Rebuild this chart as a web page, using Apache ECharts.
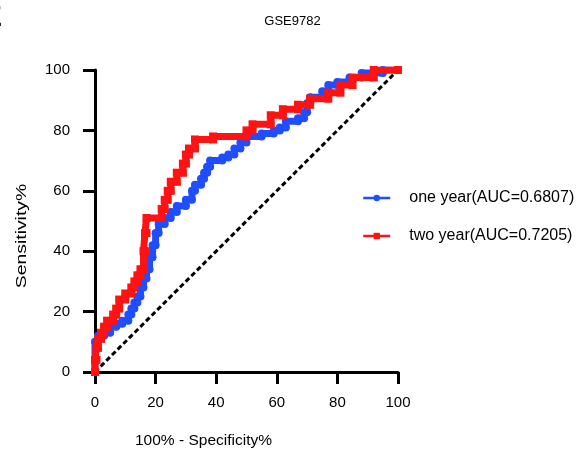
<!DOCTYPE html>
<html>
	<head>
		<meta charset="utf-8">
		<title>GSE9782</title>
		<script type="text/javascript" src="https://cdn.jsdelivr.net/npm/echarts@6/dist/echarts.min.js"></script>
		<style>
			html, body { margin: 0; padding: 0; background: #fff; }
		</style>
	</head>
	<body>
		<div id="chart" style="width:585px;height:451px;"></div>
		<script type="text/javascript">
			// ROC 曲线数据 [100% - Specificity%, Sensitivity%]
			var oneYear = [[0,0],[0,10],[1,10],[1,12],[3,12],[3,13],[5,13],[5,15],[7,15],[7,16],[9,16],[9,17],[11,17],[11,19],[12,19],[12,21],[13,21],[13,23],[14,23],[14,25],[15,25],[15,28],[16,28],[16,31],[17,31],[17,34],[18,34],[18,38],[19,38],[19,42],[20,42],[20,46],[21,46],[21,49],[23,49],[23,51],[25,51],[25,53],[27,53],[27,55],[30,55],[30,57],[32,57],[32,60],[33,60],[33,62],[35,62],[35,64],[36,64],[36,66],[37,66],[37,68],[38,68],[38,70],[42,70],[42,71],[44,71],[44,72],[46,72],[46,74],[48,74],[48,76],[50,76],[50,78],[55,78],[55,79],[59,79],[59,80],[61,80],[61,81],[63,81],[63,83],[67,83],[67,84],[69,84],[69,86],[70,86],[70,89],[71,89],[71,91],[75,91],[75,93],[77,93],[77,95],[80,95],[80,96],[84,96],[84,97.5],[88,97.5],[88,99],[95,99],[95,100],[100,100]];
			var twoYear = [[0,0],[0,4],[0.5,4],[0.5,8],[1,8],[1,11],[2,11],[2,13],[3,13],[3,15],[4,15],[4,17],[6,17],[6,19],[7,19],[7,21],[8,21],[8,24],[10,24],[10,26],[12,26],[12,28],[13,28],[13,30],[14,30],[14,32],[15,32],[15,34],[16,34],[16,40],[16.5,40],[16.5,46],[17,46],[17,51],[22,51],[22,54],[23,54],[23,57],[24,57],[24,60],[25,60],[25,63],[27,63],[27,66],[29,66],[29,69],[30,69],[30,72],[31,72],[31,74],[33,74],[33,77],[39,77],[39,78],[50,78],[50,80],[52,80],[52,82],[58,82],[58,85],[62,85],[62,87],[67,87],[67,88.5],[71,88.5],[71,90.5],[77,90.5],[77,92.5],[81,92.5],[81,95],[85,95],[85,97.5],[92,97.5],[92,100],[100,100]];
			var refLine = [[0,0],[100,100]];
			var seriesNames = ['one year(AUC=0.6807)', 'two year(AUC=0.7205)'];
			var axisTicks = [0, 20, 40, 60, 80, 100];

			var font = 'Liberation Sans, Arial, sans-serif';
			var myChart = echarts.init(document.getElementById('chart'));

			var axisCommon = {
				type: 'value',
				min: axisTicks[0],
				max: axisTicks[axisTicks.length - 1],
				interval: axisTicks[1] - axisTicks[0],
				splitLine: { show: false },
				axisLine: { show: true, lineStyle: { color: '#000', width: 3 } },
				axisTick: { show: true, length: 12, lineStyle: { color: '#000', width: 3 } }
			};

			var option = {
				animation: false,
				backgroundColor: '#fff',
				title: {
					text: 'GSE9782',
					left: 'center',
					top: 10,
					textStyle: { fontFamily: font, fontSize: 13, fontWeight: 'normal', color: '#000' }
				},
				legend: {
					orient: 'vertical',
					left: 357,
					top: 185,
					itemWidth: 27,
					itemHeight: 8,
					itemGap: 22,
					lineStyle: { width: 2.5 },
					textStyle: { fontFamily: font, fontSize: 16, color: '#000', padding: [0, 0, 0, 14] },
					data: seriesNames
				},
				grid: { left: 95, right: 187, top: 70, bottom: 79 },
				xAxis: Object.assign({}, axisCommon, {
					axisLabel: { margin: 23, fontFamily: font, fontSize: 15, color: '#000' }
				}),
				yAxis: Object.assign({}, axisCommon, {
					axisLabel: { margin: 25, fontFamily: font, fontSize: 15, color: '#000' }
				}),
				graphic: [
					{ type: 'text', x: 135, y: 441, style: { text: '100% - Specificity%', font: '15.5px ' + font, fill: '#000', verticalAlign: 'middle' } },
					{ type: 'text', x: 22, y: 236, rotation: Math.PI / 2, scaleX: 1.25, style: { text: 'Sensitivity%', font: '15.5px ' + font, fill: '#000', align: 'center', verticalAlign: 'middle' } },
					{ type: 'text', x: -18, y: 18, style: { text: 'E', font: 'bold 30px ' + font, fill: '#000', verticalAlign: 'middle' } }
				],
				series: [
					{
						type: 'line',
						data: refLine,
						symbol: 'none',
						silent: true,
						lineStyle: { color: '#000', width: 3, type: [5, 3] },
						z: 1
					},
					{
						name: seriesNames[0],
						type: 'line',
						data: oneYear,
						symbol: 'circle',
						symbolSize: 8,
						color: '#1f4dff',
						lineStyle: { width: 7, join: 'round' },
						z: 2
					},
					{
						name: seriesNames[1],
						type: 'line',
						data: twoYear,
						symbol: 'rect',
						symbolSize: 8,
						color: '#ff1212',
						lineStyle: { width: 7, join: 'miter' },
						z: 3
					}
				]
			};
			myChart.setOption(option);
		</script>
	</body>
</html>
